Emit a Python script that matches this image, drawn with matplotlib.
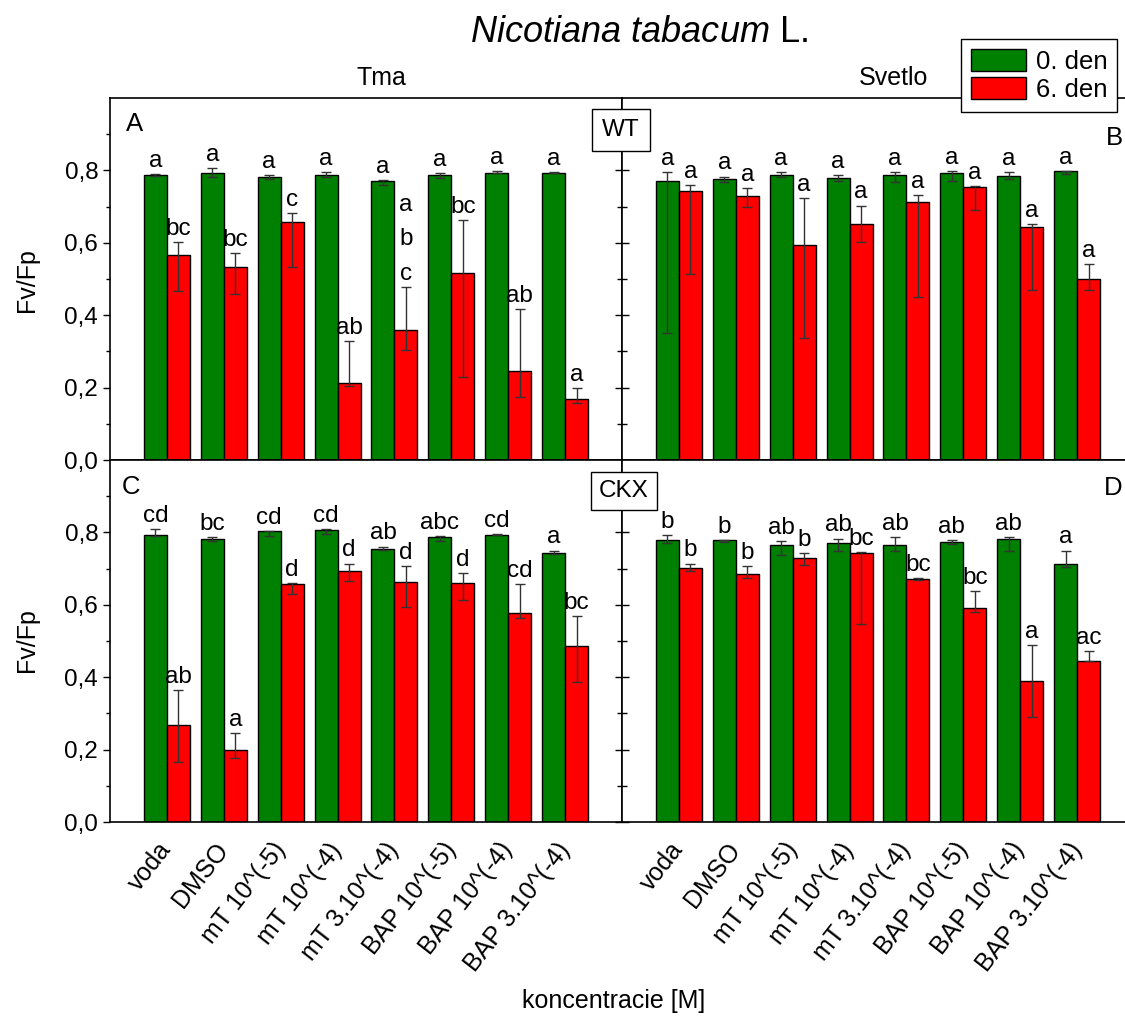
import numpy as np
import matplotlib
matplotlib.use('Agg')
import matplotlib.pyplot as plt
from matplotlib.patches import Patch
from matplotlib.ticker import FuncFormatter

plt.rcParams['font.family'] = ['Liberation Sans', 'DejaVu Sans']
plt.rcParams['mathtext.fontset'] = 'custom'
plt.rcParams['mathtext.it'] = 'Liberation Sans:italic'
plt.rcParams['mathtext.rm'] = 'Liberation Sans'

treatments = ['voda', 'DMSO', 'mT 10^(-5)', 'mT 10^(-4)', 'mT 3.10^(-4)',
              'BAP 10^(-5)', 'BAP 10^(-4)', 'BAP 3.10^(-4)']

# A - WT, Tma
a_green = [0.786, 0.794, 0.782, 0.786, 0.771, 0.786, 0.794, 0.794]
a_green_lo = [0.784, 0.783, 0.776, 0.783, 0.760, 0.779, 0.792, 0.792]
a_green_hi = [0.789, 0.807, 0.787, 0.795, 0.774, 0.793, 0.797, 0.795]
a_red = [0.565, 0.533, 0.657, 0.214, 0.360, 0.517, 0.246, 0.168]
a_red_lo = [0.468, 0.458, 0.532, 0.204, 0.303, 0.228, 0.175, 0.158]
a_red_hi = [0.602, 0.572, 0.682, 0.328, 0.477, 0.663, 0.417, 0.200]
a_green_lbl = ['a', 'a', 'a', 'a', 'a', 'a', 'a', 'a']
a_red_lbl = ['bc', 'bc', 'c', 'ab', 'a\nb\nc', 'bc', 'ab', 'a']

# B - WT, Svetlo
b_green = [0.771, 0.775, 0.787, 0.778, 0.787, 0.792, 0.785, 0.798]
b_green_lo = [0.351, 0.768, 0.783, 0.771, 0.767, 0.772, 0.775, 0.791]
b_green_hi = [0.795, 0.783, 0.795, 0.787, 0.795, 0.799, 0.795, 0.799]
b_red = [0.744, 0.729, 0.594, 0.653, 0.714, 0.755, 0.643, 0.500]
b_red_lo = [0.513, 0.698, 0.336, 0.602, 0.449, 0.690, 0.469, 0.469]
b_red_hi = [0.760, 0.750, 0.724, 0.703, 0.731, 0.757, 0.653, 0.541]
b_green_lbl = ['a', 'a', 'a', 'a', 'a', 'a', 'a', 'a']
b_red_lbl = ['a', 'a', 'a', 'a', 'a', 'a', 'a', 'a']

# C - CKX, Tma
c_green = [0.794, 0.782, 0.803, 0.806, 0.754, 0.787, 0.794, 0.742]
c_green_lo = [0.790, 0.775, 0.791, 0.796, 0.752, 0.776, 0.793, 0.739]
c_green_hi = [0.810, 0.786, 0.805, 0.810, 0.761, 0.789, 0.796, 0.750]
c_red = [0.267, 0.200, 0.657, 0.692, 0.662, 0.661, 0.576, 0.487]
c_red_lo = [0.165, 0.177, 0.630, 0.666, 0.594, 0.613, 0.564, 0.388]
c_red_hi = [0.365, 0.246, 0.661, 0.714, 0.706, 0.687, 0.658, 0.570]
c_green_lbl = ['cd', 'bc', 'cd', 'cd', 'ab', 'abc', 'cd', 'a']
c_red_lbl = ['ab', 'a', 'd', 'd', 'd', 'd', 'cd', 'bc']

# D - CKX, Svetlo
d_green = [0.779, 0.779, 0.765, 0.771, 0.766, 0.774, 0.782, 0.713]
d_green_lo = [0.770, 0.773, 0.737, 0.750, 0.750, 0.769, 0.750, 0.705]
d_green_hi = [0.792, 0.780, 0.775, 0.783, 0.787, 0.779, 0.786, 0.750]
d_red = [0.701, 0.686, 0.730, 0.742, 0.670, 0.592, 0.390, 0.446]
d_red_lo = [0.693, 0.675, 0.711, 0.546, 0.669, 0.580, 0.291, 0.446]
d_red_hi = [0.714, 0.706, 0.743, 0.746, 0.674, 0.637, 0.488, 0.472]
d_green_lbl = ['b', 'b', 'ab', 'ab', 'ab', 'ab', 'ab', 'a']
d_red_lbl = ['b', 'b', 'b', 'bc', 'bc', 'bc', 'a', 'ac']

GREEN = '#008000'
RED = '#ff0000'
W = 0.404

fig = plt.figure(figsize=(11.25, 10.21), dpi=100)

# axes positions in pixels: left 110, mid 622, right 1134 (cut off); top 98, mid 460, bottom 822
def pos(x0, y0, x1, y1):
    return [x0 / 1125, 1 - y1 / 1021, (x1 - x0) / 1125, (y1 - y0) / 1021]

ax_a = fig.add_axes(pos(110, 98, 622, 460))
ax_b = fig.add_axes(pos(622, 98, 1134, 460))
ax_c = fig.add_axes(pos(110, 460, 622, 822))
ax_d = fig.add_axes(pos(622, 460, 1134, 822))

panels = [
    (ax_a, a_green, a_green_lo, a_green_hi, a_red, a_red_lo, a_red_hi, a_green_lbl, a_red_lbl),
    (ax_b, b_green, b_green_lo, b_green_hi, b_red, b_red_lo, b_red_hi, b_green_lbl, b_red_lbl),
    (ax_c, c_green, c_green_lo, c_green_hi, c_red, c_red_lo, c_red_hi, c_green_lbl, c_red_lbl),
    (ax_d, d_green, d_green_lo, d_green_hi, d_red, d_red_lo, d_red_hi, d_green_lbl, d_red_lbl),
]

x = np.arange(1, len(treatments) + 1)
fmt = FuncFormatter(lambda v, p: f'{v:.1f}'.replace('.', ','))

for ax, g, glo, ghi, r, rlo, rhi, glbl, rlbl in panels:
    g, glo, ghi = np.array(g), np.array(glo), np.array(ghi)
    r, rlo, rhi = np.array(r), np.array(rlo), np.array(rhi)
    xg = x - W / 2
    xr = x + W / 2
    ax.bar(xg, g, W, color=GREEN, edgecolor='black', linewidth=1, zorder=2)
    ax.bar(xr, r, W, color=RED, edgecolor='black', linewidth=1, zorder=2)
    ax.errorbar(xg, g, yerr=[g - glo, ghi - g], fmt='none', ecolor='#333333',
                elinewidth=1, capsize=3.5, capthick=1, zorder=3)
    ax.errorbar(xr, r, yerr=[r - rlo, rhi - r], fmt='none', ecolor='#333333',
                elinewidth=1, capsize=3.5, capthick=1, zorder=3)
    for xi, top, s in zip(xg, ghi, glbl):
        ax.annotate(s, (xi, top), xytext=(0, 1.5), textcoords='offset points',
                    ha='center', va='bottom', fontsize=17.5)
    for xi, top, s in zip(xr, rhi, rlbl):
        ax.annotate(s, (xi, top), xytext=(0, 1.5), textcoords='offset points',
                    ha='center', va='bottom', fontsize=17.5, linespacing=1.75)
    ax.set_xlim(0, 9)
    ax.set_ylim(0, 1.0)
    ax.set_yticks([0, 0.2, 0.4, 0.6, 0.8])
    ax.set_yticks([0.1, 0.3, 0.5, 0.7, 0.9], minor=True)
    ax.yaxis.set_major_formatter(fmt)
    for sp in ax.spines.values():
        sp.set_linewidth(1.2)
    ax.tick_params(axis='x', length=0)

for ax in (ax_a, ax_c):
    ax.tick_params(axis='y', which='major', direction='out', length=5, width=1,
                   labelsize=17.5, pad=3.5)
    ax.tick_params(axis='y', which='minor', direction='out', length=3, width=1)

for ax in (ax_b, ax_d):
    ax.tick_params(axis='y', which='major', direction='inout', length=10, width=1,
                   labelleft=False)
    ax.tick_params(axis='y', which='minor', direction='inout', length=6.5, width=1)
    ax.spines['right'].set_visible(False)

for ax in (ax_a, ax_b):
    ax.set_xticks([])

for ax in (ax_c, ax_d):
    ax.set_xticks(x)
    ax.set_xticklabels(treatments, rotation=52, ha='right', va='center',
                       rotation_mode='anchor', fontsize=18)
    ax.tick_params(axis='x', pad=17)

# panel letters
ax_a.text(0.047, 0.928, 'A', transform=ax_a.transAxes, fontsize=18.5, ha='center', va='center')
ax_b.text(0.961, 0.889, 'B', transform=ax_b.transAxes, fontsize=18.5, ha='center', va='center')
ax_c.text(0.041, 0.925, 'C', transform=ax_c.transAxes, fontsize=18.5, ha='center', va='center')
ax_d.text(0.959, 0.923, 'D', transform=ax_d.transAxes, fontsize=18.5, ha='center', va='center')

# genotype boxes
fig.text(621 / 1125, 1 - 130 / 1021, 'WT', fontsize=17.5, ha='center', va='center',
         bbox=dict(boxstyle='square,pad=0.42', fc='white', ec='black', lw=1), zorder=10)
fig.text(624 / 1125, 1 - 491 / 1021, 'CKX', fontsize=17.5, ha='center', va='center',
         bbox=dict(boxstyle='square,pad=0.33', fc='white', ec='black', lw=1), zorder=10)

# titles
fig.text(639 / 1125, 1 - 33 / 1021, r'$\mathit{Nicotiana\ tabacum}$ L.', fontsize=26,
         ha='center', va='center')
fig.text(381 / 1125, 1 - 78 / 1021, 'Tma', fontsize=18, ha='center', va='center')
fig.text(894 / 1125, 1 - 78 / 1021, 'Svetlo', fontsize=18, ha='center', va='center')
fig.text(27 / 1125, 1 - 280 / 1021, 'Fv/Fp', fontsize=18, rotation=90, ha='center', va='center')
fig.text(27 / 1125, 1 - 640 / 1021, 'Fv/Fp', fontsize=18, rotation=90, ha='center', va='center')
fig.text(614 / 1125, 1 - 1001 / 1021, 'koncentracie [M]', fontsize=18, ha='center', va='center')

handles = [Patch(facecolor=GREEN, edgecolor='black', label='0. den'),
           Patch(facecolor=RED, edgecolor='black', label='6. den')]
leg = fig.legend(handles=handles, loc='upper left', bbox_to_anchor=(961 / 1125, 1 - 39 / 1021),
                 frameon=True, fancybox=False, edgecolor='black', framealpha=1,
                 fontsize=18.5, handlelength=2.14, handleheight=0.97, handletextpad=0.39,
                 borderpad=0.38, labelspacing=0.12, borderaxespad=0)
leg.get_frame().set_linewidth(1)

fig.savefig('out.png', dpi=100)
